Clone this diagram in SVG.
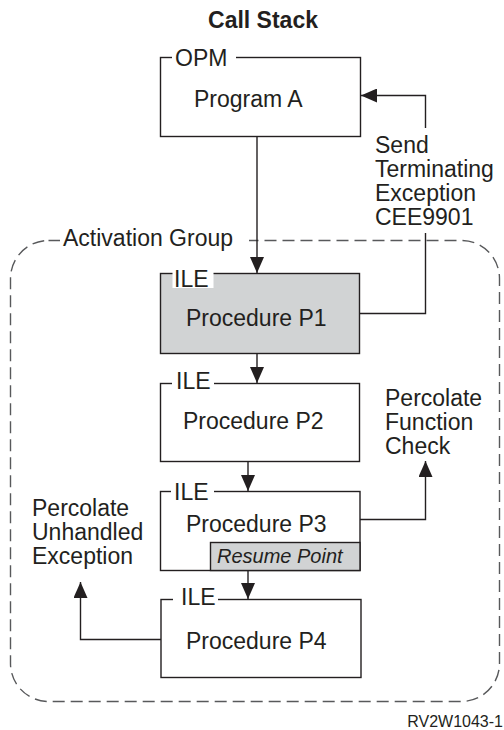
<svg xmlns="http://www.w3.org/2000/svg" width="504" height="730" viewBox="0 0 504 730">
<style>
text{font-family:"Liberation Sans",Arial,Helvetica,sans-serif;font-size:23px;fill:#231f20}
.title{font-weight:bold}
.box{fill:#fff;stroke:#231f20;stroke-width:1.4}
.gray{fill:#d1d3d4;stroke:#231f20;stroke-width:1.4}
.bg{fill:#fff;stroke:none}
.group{fill:none;stroke:#58595b;stroke-width:1.4;stroke-dasharray:12 6}
.conn{fill:none;stroke:#231f20;stroke-width:1.4}
.arr{marker-end:url(#ah)}
.it{font-style:italic;font-size:20px}
.small{font-size:16px}
</style>
<defs>
<marker id="ah" viewBox="0 0 16 14" refX="16" refY="7" markerWidth="16" markerHeight="14" markerUnits="userSpaceOnUse" orient="auto">
<path d="M0,0 L16,7 L0,14 z" fill="#231f20"/>
</marker>
</defs>
<rect width="504" height="730" fill="#fff"/>
<text class="title" x="263" y="28" text-anchor="middle">Call Stack</text>

<g id="activation-group">
<rect class="group" x="10.5" y="240.5" width="489" height="461" rx="38" ry="38"/>
<rect class="bg" x="60" y="228" width="189" height="22"/>
<text x="63" y="246">Activation Group</text>
</g>

<g id="program-a">
<rect class="box" x="160.5" y="57.5" width="200" height="79"/>
<rect class="bg" x="172" y="48" width="64" height="18"/>
<text x="175" y="66">OPM</text>
<text x="194" y="107">Program A</text>
</g>

<g id="p1">
<rect class="gray" x="160.5" y="273.5" width="199" height="80"/>
<rect class="bg" x="172.5" y="268" width="41" height="20"/>
<text x="174" y="287">ILE</text>
<text x="186" y="326">Procedure P1</text>
</g>

<g id="p2">
<rect class="box" x="160.5" y="383.5" width="199" height="78"/>
<rect class="bg" x="172" y="372" width="42" height="18"/>
<text x="176" y="389">ILE</text>
<text x="183" y="429">Procedure P2</text>
</g>

<g id="p3">
<rect class="box" x="160.5" y="491.5" width="199.5" height="79"/>
<rect class="bg" x="171" y="484" width="43" height="18"/>
<text x="174" y="500">ILE</text>
<text x="186" y="532">Procedure P3</text>
<rect class="gray" x="210.5" y="542.5" width="149.5" height="28"/>
<text class="it" x="217" y="563">Resume Point</text>
</g>

<g id="p4">
<rect class="box" x="161" y="599.5" width="200" height="78"/>
<rect class="bg" x="173" y="586" width="45" height="18"/>
<text x="181" y="605">ILE</text>
<text x="186" y="649">Procedure P4</text>
</g>

<g id="labels">
<text x="375" y="153">Send</text>
<text x="375" y="177">Terminating</text>
<text x="375" y="201">Exception</text>
<text x="375" y="225">CEE9901</text>
<text x="385" y="406">Percolate</text>
<text x="385" y="430">Function</text>
<text x="385" y="454">Check</text>
<text x="32" y="516">Percolate</text>
<text x="32" y="540">Unhandled</text>
<text x="32" y="564">Exception</text>
<text class="small" x="503" y="727" text-anchor="end">RV2W1043-1</text>
</g>

<g id="connectors">
<path class="conn arr" d="M257,136.5 V273"/>
<path class="conn arr" d="M257,353.5 V383"/>
<path class="conn arr" d="M248,461.5 V491"/>
<path class="conn arr" d="M248,570.5 V599"/>
<path class="conn" d="M360,313.5 H425.5 V233"/>
<path class="conn arr" d="M425.5,128 V95.5 H361"/>
<path class="conn arr" d="M360,519.5 H425.5 V461"/>
<path class="conn arr" d="M161,639.5 H80.5 V582"/>
</g>
</svg>
